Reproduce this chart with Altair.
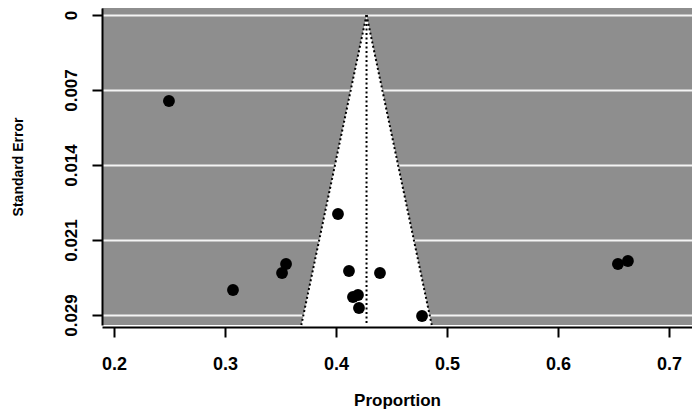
import altair as alt
import pandas as pd

# Study estimates
proportion = [0.2495, 0.4018, 0.4117, 0.4396, 0.4153, 0.4198, 0.4207, 0.4775,
              0.3550, 0.3514, 0.3072, 0.6540, 0.6630]
std_error = [0.00831, 0.01924, 0.02475, 0.02494, 0.02726, 0.02707, 0.02832, 0.02910,
             0.02407, 0.02494, 0.02658, 0.02407, 0.02378]

# Axis ticks
x_ticks = [0.2, 0.3, 0.4, 0.5, 0.6, 0.7]
y_tick_values = [0.0, 0.00725, 0.0145, 0.02175, 0.029]
y_tick_labels = ["0", "0.007", "0.014", "0.021", "0.029"]

# Funnel definition
pooled = 0.4275
z = 1.96
se_range = [0.0, 0.029967]

x_domain = [0.18919, 0.72072]
y_domain = [-0.000677, 0.029967]

points = pd.DataFrame({"x": proportion, "se": std_error})
funnel = pd.DataFrame({
    "se": se_range,
    "x": [pooled - z * s for s in se_range],
    "hi": [pooled + z * s for s in se_range],
})
edges = pd.DataFrame({
    "side": ["lo", "lo", "hi", "hi"],
    "se": se_range + se_range,
    "x": [pooled - z * s for s in se_range] + [pooled + z * s for s in se_range],
})
center = pd.DataFrame({"x": [pooled], "se": [se_range[0]], "se2": [se_range[1]]})

FONT = "Liberation Sans"

label_expr = " : ".join(
    f"abs(datum.value - {v}) < 1e-7 ? '{l}'" for v, l in zip(y_tick_values, y_tick_labels)
) + " : ''"

xscale = alt.Scale(domain=x_domain, nice=False, zero=False)
yscale = alt.Scale(domain=y_domain, nice=False, zero=False, reverse=True)

xaxis = alt.Axis(
    values=x_ticks, format=".1f", title="Proportion", grid=False,
    domainColor="black", domainWidth=2, tickColor="black", tickWidth=2, tickSize=10,
    labelFont=FONT, labelFontSize=18, labelFontWeight="bold", labelColor="black",
    labelPadding=18, labelFlush=False, labelOverlap=False,
    titleFont=FONT, titleFontSize=17, titleColor="black", titleFontWeight="bold",
    titleY=73, titleBaseline="middle", offset=2,
)
yaxis = alt.Axis(
    values=y_tick_values, labelExpr=label_expr, title="Standard Error",
    grid=True, gridColor="#f4f4f4", gridWidth=2, gridOpacity=1,
    domainColor="black", domainWidth=2, tickColor="black", tickWidth=2, tickSize=10,
    labelFont=FONT, labelFontSize=17, labelFontWeight="bold", labelColor="black",
    labelPadding=12, labelAngle=270, labelAlign="center", labelBaseline="bottom",
    labelFlush=False, labelOverlap=False,
    titleFont=FONT, titleFontSize=14, titleColor="black", titleFontWeight="bold",
    titleAngle=270, titleX=-84, titleBaseline="middle",
)

area = alt.Chart(funnel).mark_area(orient="horizontal", color="white", opacity=1).encode(
    y=alt.Y("se:Q", scale=yscale, axis=yaxis),
    x=alt.X("x:Q", scale=xscale, axis=xaxis),
    x2="hi:Q",
)

edge_lines = alt.Chart(edges).mark_line(
    color="black", strokeWidth=2, strokeDash=[2, 2.5]
).encode(
    y=alt.Y("se:Q", scale=yscale, axis=yaxis),
    x=alt.X("x:Q", scale=xscale, axis=xaxis),
    detail="side:N",
    order="se:Q",
)

center_line = alt.Chart(center).mark_rule(
    color="black", strokeWidth=2, strokeDash=[2, 2.5]
).encode(
    x=alt.X("x:Q", scale=xscale, axis=xaxis),
    y=alt.Y("se:Q", scale=yscale, axis=yaxis),
    y2="se2:Q",
)

dots = alt.Chart(points).mark_circle(size=140, color="black", opacity=1).encode(
    x=alt.X("x:Q", scale=xscale, axis=xaxis),
    y=alt.Y("se:Q", scale=yscale, axis=yaxis),
)

chart = alt.layer(area, edge_lines, center_line, dots).properties(
    width=590,
    height=317,
    autosize=alt.AutoSizeParams(type="none"),
    padding={"left": 94, "top": 0, "right": 0, "bottom": 85},
).configure_view(fill="#8e8e8e", stroke=None)

chart.save("out.html", embed_options={"renderer": "svg", "actions": False})
